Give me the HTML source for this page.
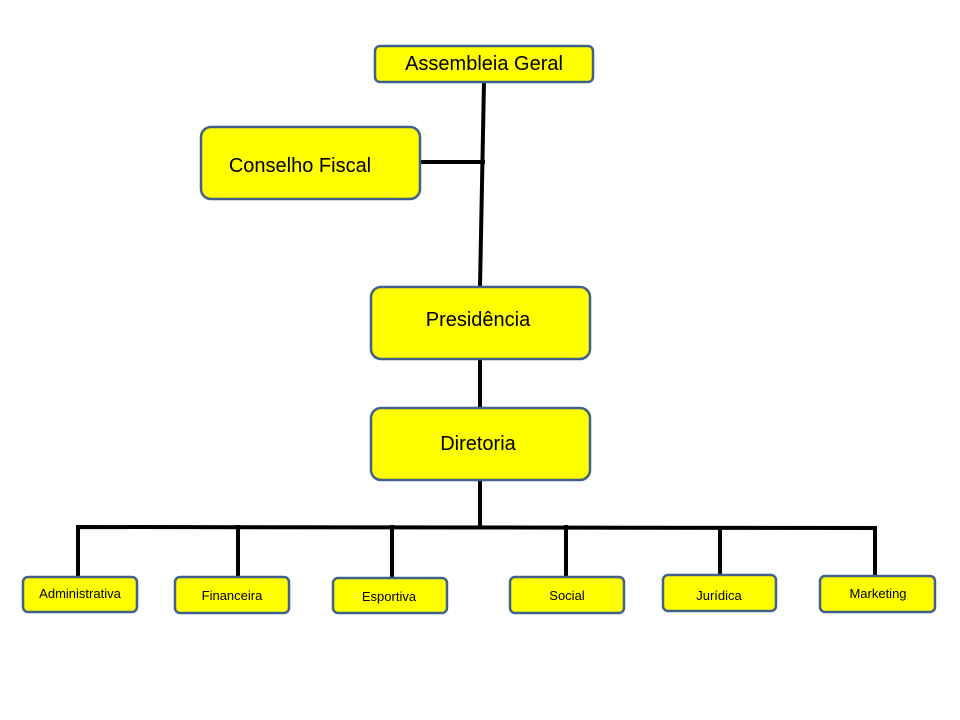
<!DOCTYPE html>
<html><head><meta charset="utf-8"><style>
html,body{margin:0;padding:0;background:#fff;width:960px;height:720px;overflow:hidden}
text{font-family:"Liberation Sans",sans-serif;fill:#000}
</style></head><body>
<svg width="960" height="720" viewBox="0 0 960 720" xmlns="http://www.w3.org/2000/svg">
<g stroke="#000" stroke-width="4" fill="none" stroke-linecap="square">
<line x1="484" y1="82" x2="480" y2="287"/>
<line x1="420" y1="162" x2="483" y2="162"/>
<line x1="480" y1="359" x2="480" y2="408"/>
<line x1="480" y1="480" x2="480" y2="526"/>
<polyline points="78,576 78,527 875,528 875,577"/>
<line x1="238" y1="527" x2="238" y2="576"/>
<line x1="392" y1="527" x2="392" y2="578"/>
<line x1="566" y1="527" x2="566" y2="576"/>
<line x1="720" y1="528" x2="720" y2="575"/>
</g>
<g fill="#ffff00" stroke="#41618a" stroke-width="2.5">
<rect x="375" y="46" width="218" height="36" rx="5"/>
<rect x="201" y="127" width="219" height="72" rx="10"/>
<rect x="371" y="287" width="219" height="72" rx="10"/>
<rect x="371" y="408" width="219" height="72" rx="10"/>
<rect x="23" y="577" width="114" height="35" rx="5"/>
<rect x="175" y="577" width="114" height="36" rx="5"/>
<rect x="333" y="578" width="114" height="35" rx="5"/>
<rect x="510" y="577" width="114" height="36" rx="5"/>
<rect x="663" y="575" width="113" height="36" rx="5"/>
<rect x="820" y="576" width="115" height="36" rx="5"/>
</g>
<g text-anchor="middle">
<text x="484" y="70" font-size="20">Assembleia Geral</text>
<text x="300" y="172" font-size="20">Conselho Fiscal</text>
<text x="478" y="326" font-size="20">Presidência</text>
<text x="478" y="450" font-size="20">Diretoria</text>
<text x="80" y="598" font-size="13">Administrativa</text>
<text x="232" y="600" font-size="13">Financeira</text>
<text x="389" y="601" font-size="13">Esportiva</text>
<text x="567" y="600" font-size="13">Social</text>
<text x="719" y="600" font-size="13">Jurídica</text>
<text x="878" y="598" font-size="13">Marketing</text>
</g>
</svg>
</body></html>
